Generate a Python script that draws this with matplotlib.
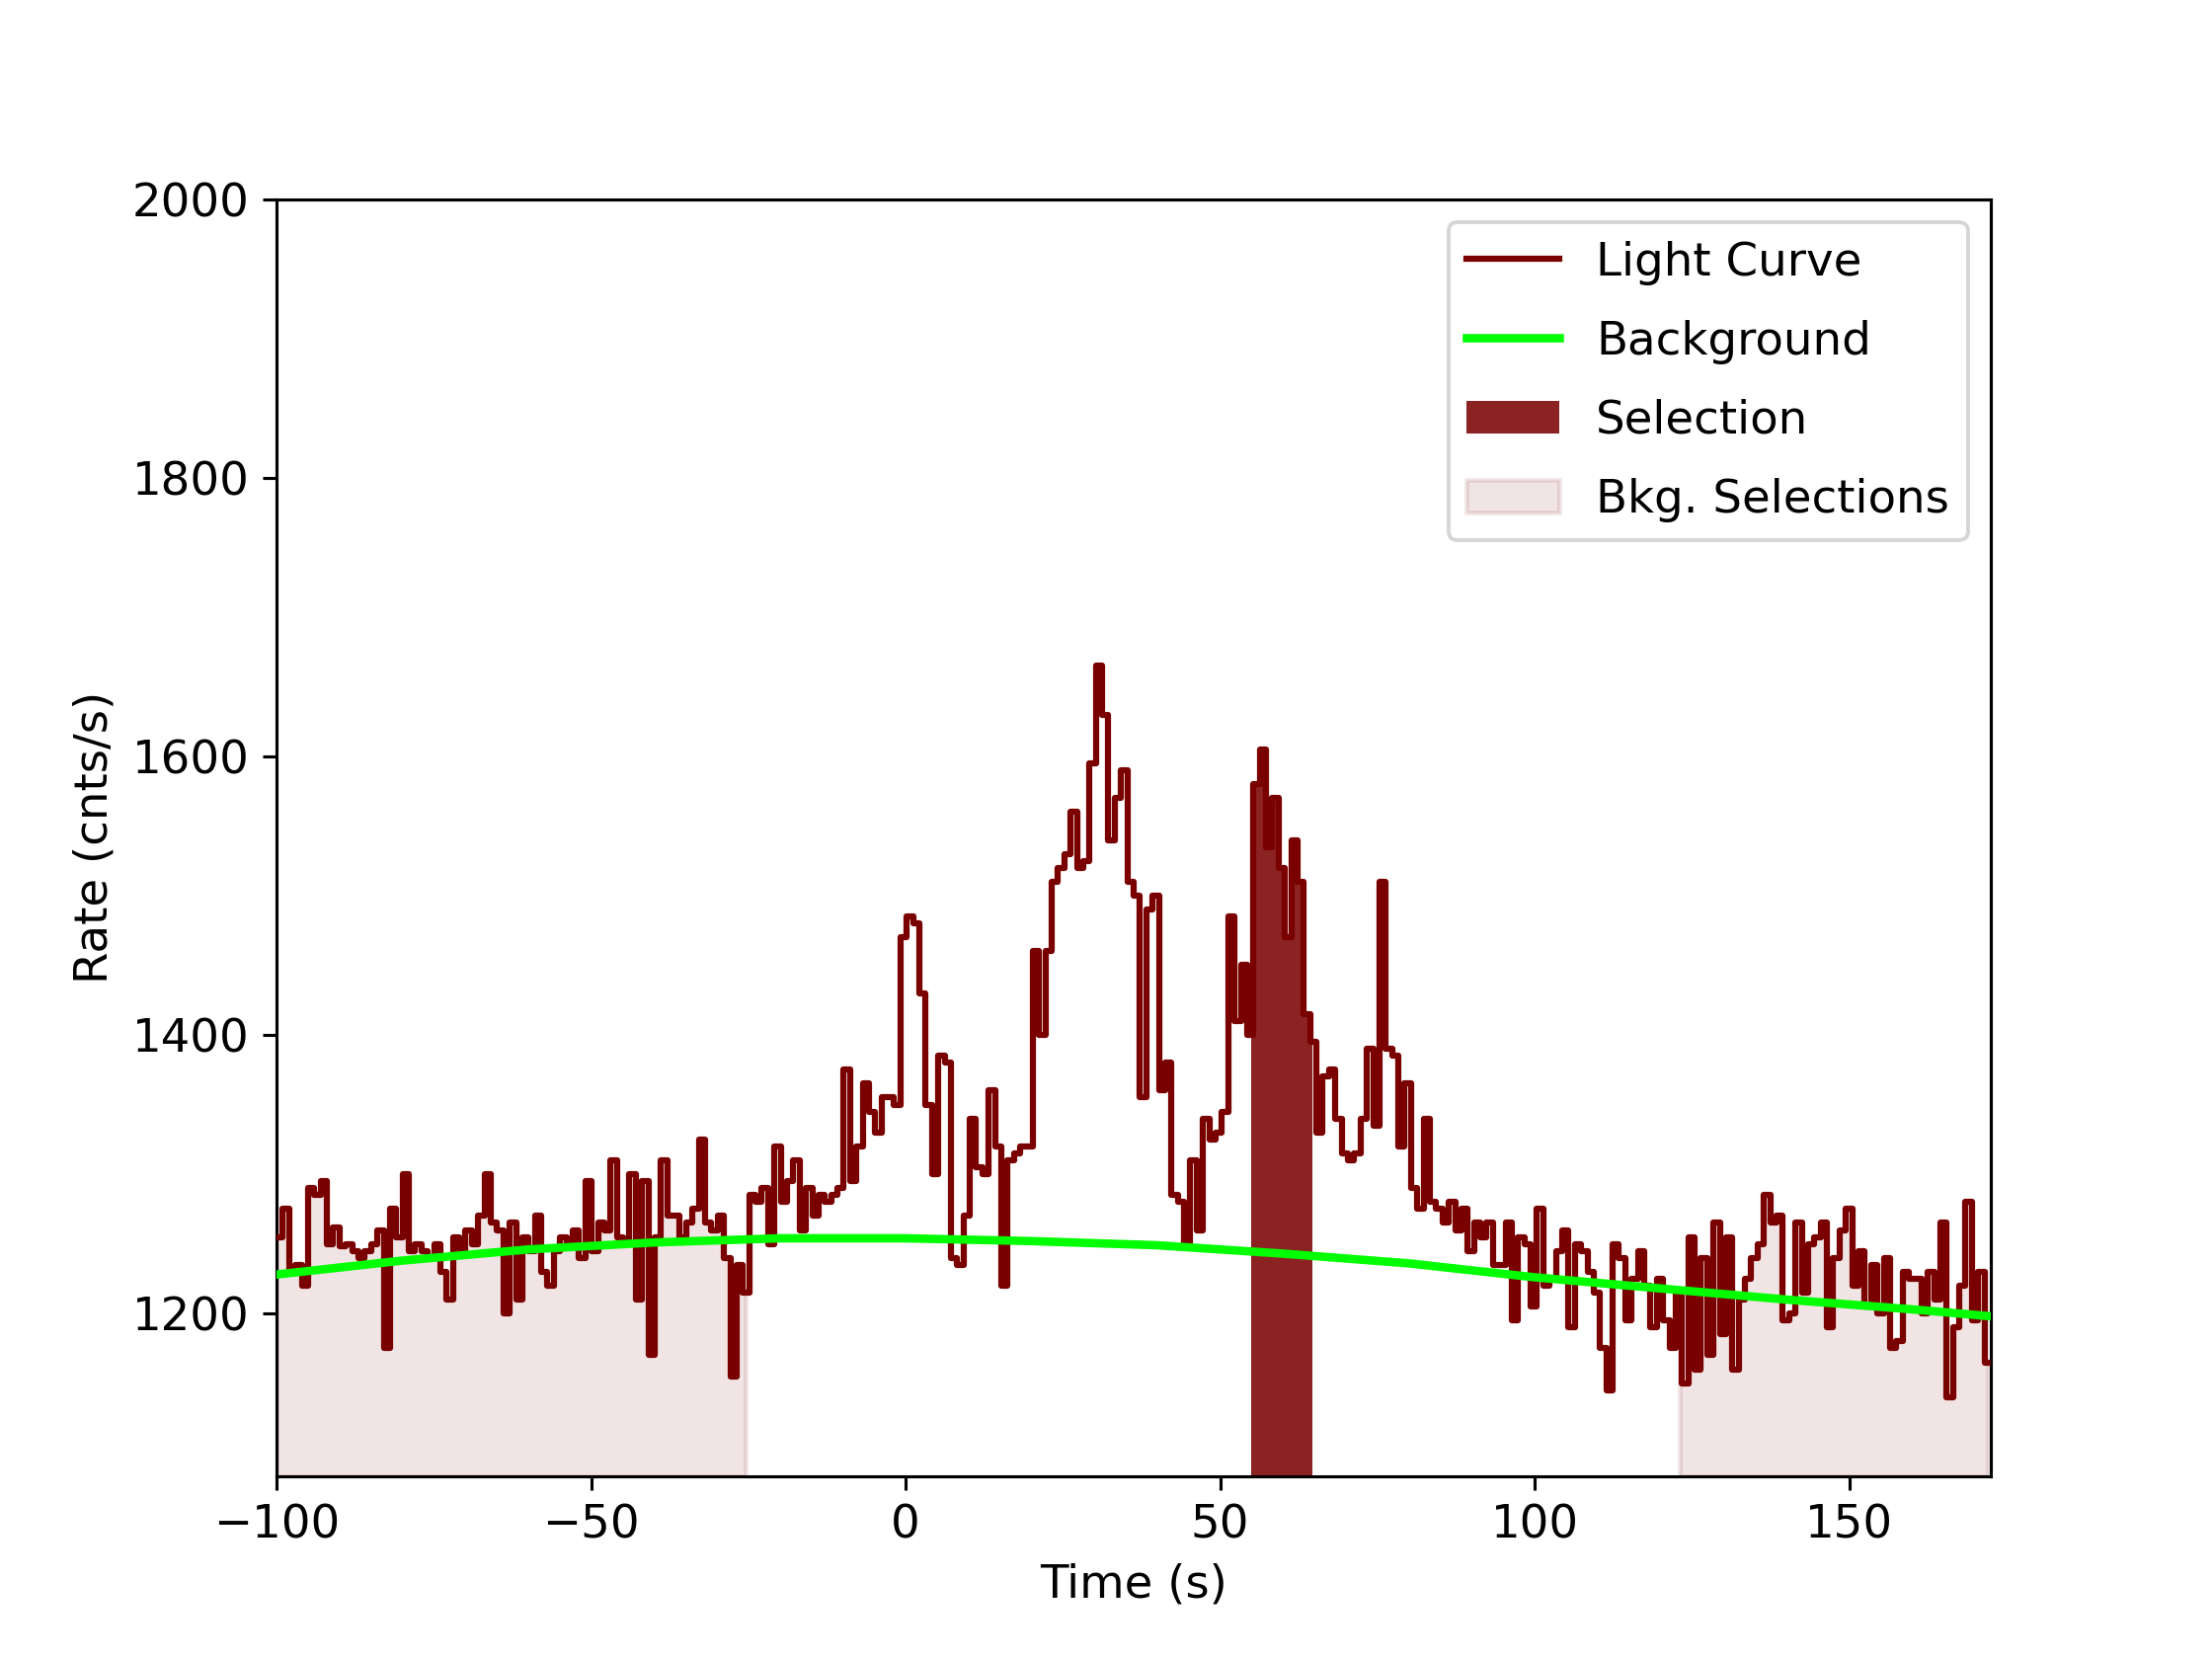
import numpy as np
import matplotlib.pyplot as plt

# Light curve rates (cnts/s), equal-width bins from -100 s
rates = [
    1255, 1275, 1230, 1235, 1220, 1290, 1285, 1295, 1250, 1262,
    1248, 1250, 1245, 1240, 1245, 1250, 1260, 1175, 1275, 1255,
    1300, 1245, 1250, 1245, 1240, 1250, 1230, 1210, 1255, 1245,
    1260, 1250, 1270, 1300, 1265, 1260, 1200, 1265, 1210, 1255,
    1245, 1270, 1230, 1220, 1245, 1255, 1250, 1260, 1240, 1295,
    1245, 1265, 1260, 1310, 1255, 1250, 1300, 1210, 1295, 1170,
    1255, 1310, 1270, 1270, 1255, 1265, 1275, 1325, 1265, 1260,
    1270, 1240, 1155, 1235, 1215, 1285, 1280, 1290, 1250, 1320,
    1280, 1295, 1310, 1260, 1290, 1270, 1285, 1280, 1285, 1290,
    1375, 1295, 1320, 1365, 1345, 1330, 1355, 1355, 1350, 1470,
    1485, 1480, 1430, 1350, 1300, 1385, 1380, 1240, 1235, 1270,
    1340, 1305, 1300, 1360, 1320, 1220, 1310, 1315, 1320, 1320,
    1460, 1400, 1460, 1510, 1520, 1530, 1560, 1520, 1525, 1595,
    1665, 1630, 1540, 1570, 1590, 1510, 1500, 1355, 1490, 1500,
    1360, 1380, 1285, 1280, 1250, 1310, 1260, 1340, 1325, 1330,
    1345, 1485, 1410, 1450, 1400,
    1580, 1605, 1535, 1570, 1520, 1470, 1540, 1510, 1415,
    1395, 1330, 1370, 1375, 1340, 1315, 1310, 1315, 1340, 1390,
    1335, 1510, 1390, 1385, 1320, 1365, 1290, 1275, 1340, 1280,
    1275, 1265, 1280, 1260, 1275, 1245, 1265, 1255, 1265, 1235,
    1235, 1265, 1195, 1255, 1250, 1205, 1275, 1220, 1225, 1245,
    1260, 1190, 1250, 1245, 1230, 1215, 1175, 1145, 1250, 1240,
    1195, 1225, 1245, 1220, 1190, 1225, 1195, 1175, 1215, 1150,
    1255, 1160, 1240, 1170, 1265, 1185, 1255, 1160, 1210, 1225,
    1240, 1250, 1285, 1265, 1270, 1195, 1200, 1265, 1215, 1250,
    1255, 1265, 1190, 1240, 1260, 1275, 1220, 1245, 1205, 1235,
    1200, 1240, 1175, 1180, 1230, 1225, 1225, 1200, 1230, 1210,
    1265, 1140, 1190, 1220, 1280, 1195, 1230, 1165,
]
t_start, t_end = -100.0, 172.5

# Background model sampled at a few times
bkg_t = [-100, -80, -60, -40, -20, 0, 20, 40, 60, 80, 100, 120, 140, 160, 172.5]
bkg_r = [1228, 1238, 1246, 1251, 1254, 1254, 1252, 1249, 1243, 1236, 1226, 1218, 1210, 1203, 1198]

sel = (55.0, 64.6)
bkg_sel = [(-100.0, -25.5), (123.0, 172.0)]
y_min, y_max = 1083, 2000

n = len(rates)
edges = np.linspace(t_start, t_end, n + 1)
y = np.append(rates, rates[-1])


def region(a, b):
    # bin edges inside [a, b], plus the region bounds, with matching step heights
    xs = np.concatenate(([a], edges[(edges > a) & (edges < b)], [b]))
    idx = np.clip(np.searchsorted(edges, xs, side='right') - 1, 0, n - 1)
    return xs, np.asarray(rates)[idx]


fig = plt.figure(figsize=(8, 6), dpi=280)
ax = fig.add_subplot(111)
ax.step(edges, y, where='post', color='#7a0000', lw=1.6, label='Light Curve', zorder=3)
ax.plot(bkg_t, bkg_r, color='#00ff00', lw=2.2, label='Background', zorder=4)
xs, ys = region(*sel)
ax.fill_between(xs, y_min, ys, step='post', color='#8b2323', lw=0, label='Selection', zorder=2)
for i, (a, b) in enumerate(bkg_sel):
    xs, ys = region(a, b)
    ax.fill_between(xs, y_min, ys, step='post', color='#8b2323', alpha=0.12, lw=1.2,
                    label='Bkg. Selections' if i == 0 else None, zorder=1)

ax.set_xlim(-100, 172.5)
ax.set_ylim(y_min, y_max)
ax.set_xlabel('Time (s)', fontsize=12)
ax.set_ylabel('Rate (cnts/s)', fontsize=12)
ax.tick_params(labelsize=12)
ax.legend(loc='upper right', fontsize=12, labelspacing=0.75)
fig.savefig('out.png')
